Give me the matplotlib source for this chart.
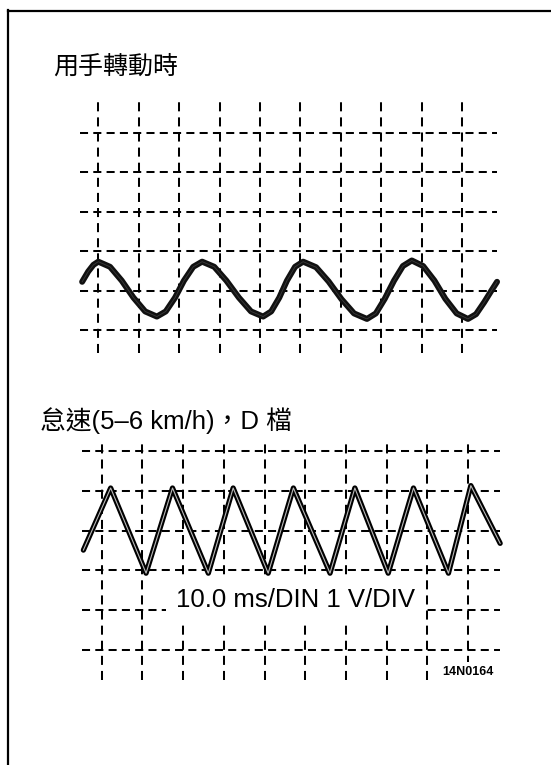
import matplotlib
matplotlib.use("Agg")
import matplotlib.pyplot as plt
from matplotlib.lines import Line2D

# ---- data (grid divisions) ----
top_title = "用手轉動時"
bottom_title = "怠速(5–6 km/h)，D 檔"
scale_label = "10.0 ms/DIN 1 V/DIV"
figure_code = "14N0164"

grid_cols = [0, 1, 2, 3, 4, 5, 6, 7, 8, 9]
grid_rows = [0, 1, 2, 3, 4, 5]

# hand turning: slow, rounded wave
top_wave_x = [-0.40, -0.25, -0.12, 0.00, 0.29, 0.58, 0.87, 1.16, 1.45,
              1.67, 1.90, 2.12, 2.35, 2.57, 2.87, 3.17, 3.48, 3.78, 4.08,
              4.28, 4.48, 4.67, 4.87, 5.07, 5.39, 5.70, 6.02, 6.33, 6.65,
              6.87, 7.09, 7.32, 7.54, 7.76, 8.04, 8.32, 8.59, 8.87, 9.15,
              9.35, 9.55, 9.72, 9.87]
top_wave_y = [1.22, 1.48, 1.65, 1.73, 1.60, 1.25, 0.82, 0.47, 0.34,
              0.47, 0.82, 1.25, 1.60, 1.73, 1.60, 1.25, 0.82, 0.47, 0.34,
              0.47, 0.82, 1.25, 1.60, 1.73, 1.59, 1.23, 0.78, 0.42, 0.28,
              0.42, 0.79, 1.25, 1.62, 1.76, 1.62, 1.25, 0.79, 0.42, 0.28,
              0.40, 0.70, 0.98, 1.22]

# idle, D range: faster triangular wave
bottom_wave_x = [-0.45, 0.22, 1.09, 1.74, 2.62, 3.23, 4.09, 4.71, 5.61,
                 6.22, 7.04, 7.66, 8.52, 9.07, 9.79]
bottom_wave_y = [2.51, 4.07, 1.93, 4.07, 1.93, 4.07, 1.93, 4.07, 1.93,
                 4.07, 1.93, 4.07, 1.93, 4.13, 2.68]

FIG_W, FIG_H = 551, 765
CJK = ['Liberation Sans', 'Noto Sans CJK TC', 'DejaVu Sans']


def scope_axes(fig, box, x0, dx, y0, dy):
    # box = pixel box (left, top, right, bottom); x0/y0 = pixel of div 0, dx/dy = px per div
    l, t, r, b = box
    ax = fig.add_axes([l / FIG_W, 1 - b / FIG_H, (r - l) / FIG_W, (b - t) / FIG_H])
    ax.set_xlim((l - x0) / dx, (r - x0) / dx)
    ax.set_ylim((y0 - b) / dy, (y0 - t) / dy)
    ax.axis('off')
    return ax


def draw_grid(ax, hx, vy):
    ax.hlines(grid_rows, hx[0], hx[1], colors='black', linewidth=1.45,
              linestyles=(0, (4.0, 2.6)), zorder=1)
    ax.vlines(grid_cols, vy[0], vy[1], colors='black', linewidth=1.45,
              linestyles=(0, (4.5, 3.0)), zorder=1)


fig = plt.figure(figsize=(FIG_W / 100, FIG_H / 100), dpi=100)

# frame: top and left edges only
fig.add_artist(Line2D([8 / FIG_W, 1], [1 - 11 / FIG_H] * 2, color='black',
                      linewidth=1.6, transform=fig.transFigure))
fig.add_artist(Line2D([8 / FIG_W] * 2, [0, 1 - 10 / FIG_H], color='black',
                      linewidth=1.6, transform=fig.transFigure))

fig.text(53 / FIG_W, 1 - 67 / FIG_H, top_title, family=CJK, fontsize=18,
         ha='left', va='center')
fig.text(40 / FIG_W, 1 - 421 / FIG_H, bottom_title, family=CJK, fontsize=18.5,
         ha='left', va='center')

# top scope
ax1 = scope_axes(fig, (70, 90, 510, 365), 98.3, 40.4, 330.0, 39.5)
draw_grid(ax1, (-0.45, 9.87), (-0.58, 5.82))
ax1.plot(top_wave_x, top_wave_y, color='#111111', linewidth=4.3,
         solid_joinstyle='round', solid_capstyle='round', zorder=3)
ax1.plot(top_wave_x, top_wave_y, color='#3a3a3a', linewidth=0.6, zorder=4)

# bottom scope
ax2 = scope_axes(fig, (70, 435, 510, 700), 101.7, 40.7, 650.0, 39.8)
draw_grid(ax2, (-0.49, 9.79), (-0.75, 5.2))
ax2.plot(bottom_wave_x, bottom_wave_y, color='black', linewidth=3.8,
         solid_joinstyle='round', solid_capstyle='round', zorder=3)
ax2.plot(bottom_wave_x, bottom_wave_y, color='#bbbbbb', linewidth=0.8,
         solid_joinstyle='round', zorder=4)
ax2.text(4.75, 1.26, scale_label, family=CJK, fontsize=18.5, ha='center',
         va='center', zorder=5,
         bbox=dict(facecolor='white', edgecolor='none', pad=7))
ax2.text(9.0, -0.55, figure_code, family=CJK, fontsize=9, weight='bold',
         ha='center', va='center', zorder=5,
         bbox=dict(facecolor='white', edgecolor='none', pad=2.5))

fig.savefig('out.png', dpi=100)
